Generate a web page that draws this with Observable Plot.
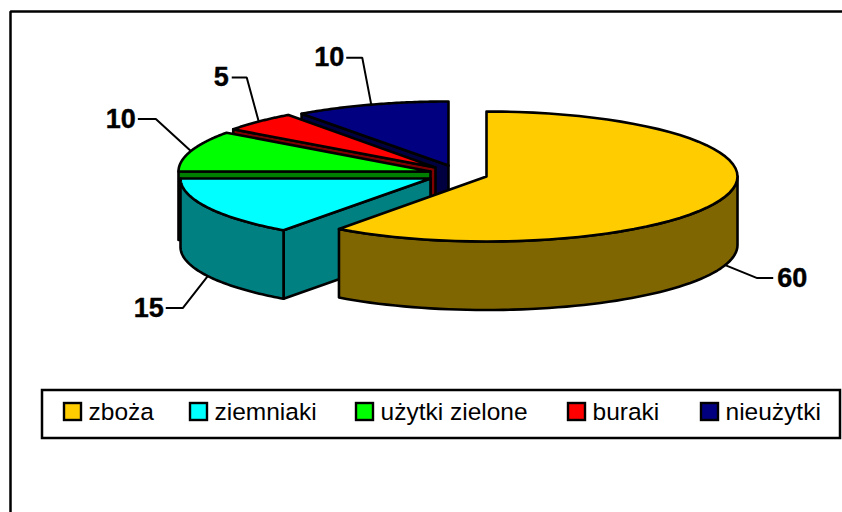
<!DOCTYPE html>
<html><head><meta charset="utf-8">
<style>html,body{margin:0;padding:0;background:#fff}svg{display:block}</style>
<script src="https://cdn.jsdelivr.net/npm/d3@7"></script>
<script src="https://cdn.jsdelivr.net/npm/@observablehq/plot@0.6"></script>
</head><body><div id="chart"></div>
<script>
// --- data ---
const categories = ["zboża", "ziemniaki", "użytki zielone", "buraki", "nieużytki"];
const values = [60, 15, 10, 5, 10];
// --- style ---
const topColors = ["#FFCC00", "#00FFFF", "#00FF00", "#FF0000", "#000080"];
const sideColors = ["#806600", "#008080", "#008000", "#800000", "#000040"];
// --- layout of the exploded 3D pie ---
const sliceCenterX = [486, 430, 430, 435, 448];
const sliceCenterY = [176, 178, 171, 167, 165];
const radiusX = [251, 250, 252, 250, 250];
const radiusY = [65, 64, 66, 65, 64];
const depth = 68.5;
const paintOrder = [4, 3, 2, 1, 0];
const elbowDx = [32, -25, -35, -12, -9];
const elbowDy = [13, 32, -32, -44, -47];
const stubDx = [16, -17, -18, -15, -16];
const labelGap = [4, -2, -2, -3, -2];
const legendX = [64, 190, 356, 568, 701];

const arcs = d3.pie().value(d => d).sort(null).startAngle(0).endAngle(2 * Math.PI)(values);
const pt = (i, a, dz = 0) => [
  sliceCenterX[i] + radiusX[i] * Math.sin(a),
  sliceCenterY[i] - radiusY[i] * Math.cos(a) + dz
];
const arcPts = (i, a0, a1, dz = 0) => d3.range(0, 61).map(k => pt(i, a0 + (a1 - a0) * k / 60, dz));

const polys = [];
let id = 0;
const add = (points, key) => { id++; points.forEach(([x, y]) => polys.push({x, y, id, key})); };
for (const i of paintOrder) {
  const {startAngle: a0, endAngle: a1} = arcs[i];
  const c = [sliceCenterX[i], sliceCenterY[i]];
  const side = categories[i] + " (bok)";
  if (Math.sin(a0) < -1e-9) {
    const p = pt(i, a0);
    add([c, p, [p[0], p[1] + depth], [c[0], c[1] + depth]], side);
  }
  const w0 = Math.max(a0, Math.PI / 2), w1 = Math.min(a1, 3 * Math.PI / 2);
  if (w1 > w0) add([...arcPts(i, w0, w1), ...arcPts(i, w0, w1, depth).reverse()], side);
  add([c, ...arcPts(i, a0, a1)], categories[i]);
}

// leader lines start at the rim (or lower wall rim) at each slice's middle angle
const leaders = [], labels = [];
arcs.forEach((arc, i) => {
  const mid = (arc.startAngle + arc.endAngle) / 2;
  const start = pt(i, mid, Math.cos(mid) < 0 ? depth : 0);
  const elbow = [start[0] + elbowDx[i], start[1] + elbowDy[i]];
  const end = [elbow[0] + stubDx[i], elbow[1]];
  [start, elbow, end].forEach(([x, y]) => leaders.push({x, y, i}));
  labels.push({x: end[0] + labelGap[i], y: end[1], text: String(values[i]), right: stubDx[i] > 0});
});

const frame = [{x: 10, y: 520}, {x: 10, y: 11}, {x: 850, y: 11}];
const legendBox = [{x1: 42, x2: 840, y1: 390, y2: 438}];
const legend = categories.map((c, i) => ({c, x: legendX[i]}));
const font = "'Liberation Sans', Arial, sans-serif";
const labelStyle = {x: "x", y: "y", text: "text", fontSize: 27, fontWeight: "bold", fill: "#000", lineAnchor: "middle", stroke: "#000", strokeWidth: 0.4};

const chart = Plot.plot({
  width: 842, height: 512, margin: 0,
  x: {domain: [0, 842], range: [0, 842], axis: null},
  y: {domain: [0, 512], range: [0, 512], axis: null},
  color: {
    domain: [...categories, ...categories.map(c => c + " (bok)")],
    range: [...topColors, ...sideColors]
  },
  style: {fontFamily: font, background: "#fff", overflow: "hidden"},
  marks: [
    Plot.line(frame, {x: "x", y: "y", stroke: "#000", strokeWidth: 2.5, strokeLinejoin: "miter", strokeLinecap: "butt"}),
    Plot.line(polys, {x: "x", y: "y", z: "id", fill: "key", stroke: "#000", strokeWidth: 2.6, curve: "linear-closed", strokeLinejoin: "round"}),
    Plot.line(leaders, {x: "x", y: "y", z: "i", stroke: "#000", strokeWidth: 2, strokeLinejoin: "miter", strokeLinecap: "butt"}),
    Plot.text(labels.filter(d => d.right), {...labelStyle, textAnchor: "start"}),
    Plot.text(labels.filter(d => !d.right), {...labelStyle, textAnchor: "end"}),
    Plot.rect(legendBox, {x1: "x1", x2: "x2", y1: "y1", y2: "y2", fill: "#fff", stroke: "#000", strokeWidth: 2.5}),
    Plot.rect(legend, {x1: "x", x2: d => d.x + 17, y1: 403, y2: 420, fill: "c", stroke: "#000", strokeWidth: 2.4}),
    Plot.text(legend, {x: d => d.x + 24, y: 412, text: "c", textAnchor: "start", fontSize: 24.5, fill: "#000", lineAnchor: "middle"})
  ]
});
document.getElementById("chart").append(chart);
</script></body></html>
